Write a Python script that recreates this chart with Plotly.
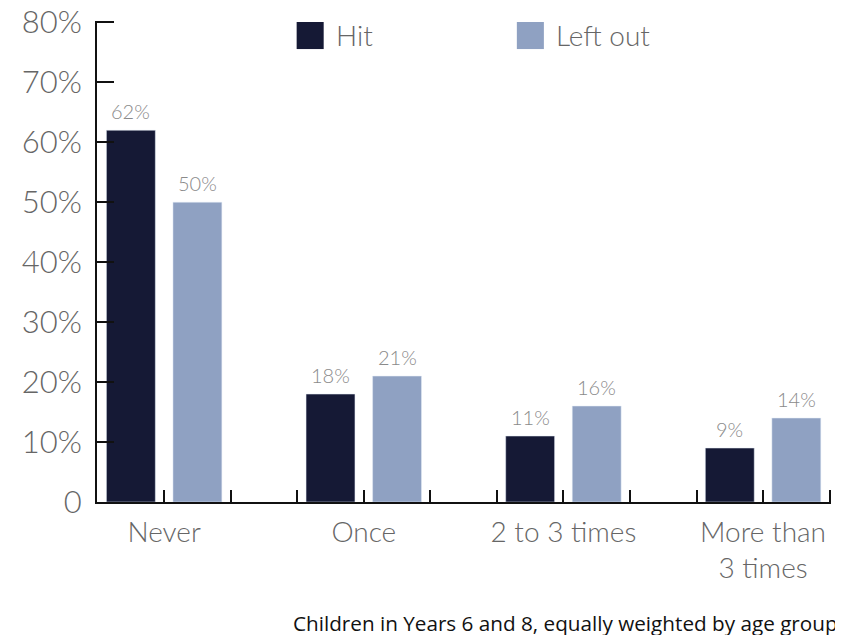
import plotly.graph_objects as go
import numpy as np

categories = ["Never", "Once", "2 to 3 times", "More than<br>3 times"]
hit = [62, 18, 11, 9]
left_out = [50, 21, 16, 14]
series_names = ["Hit", "Left out"]
y_ticks = [0, 10, 20, 30, 40, 50, 60, 70, 80]
y_tick_labels = ["0", "10%", "20%", "30%", "40%", "50%", "60%", "70%", "80%"]

c_hit = "#151935"
c_left = "#8fa1c2"
font_fam = "Lato, Roboto, sans-serif"

x = np.arange(len(categories))
bw = 0.245
fig = go.Figure()
fig.add_trace(go.Bar(x=x, y=hit, name=series_names[0], marker_color=c_hit,
                     width=bw, offset=-1/6 - bw/2, showlegend=False))
fig.add_trace(go.Bar(x=x, y=left_out, name=series_names[1], marker_color=c_left,
                     width=bw, offset=1/6 - bw/2, showlegend=False))

for xs, vals in [(x - 1/6, hit), (x + 1/6, left_out)]:
    for xi, v in zip(xs, vals):
        fig.add_annotation(x=xi, y=v, text=f"{v}%", showarrow=False, yanchor="bottom",
                           yshift=5, font=dict(size=20, color="#8a8a8a", family=font_fam, weight=300))

# x ticks every third of a category
tickvals = [k / 3 - 1 / 3 for k in range(3 * len(categories) + 2)]
ticktext = []
for tv in tickvals:
    idx = round(tv)
    if abs(tv - idx) < 1e-6 and 0 <= idx < len(categories):
        ticktext.append(categories[idx])
    else:
        ticktext.append("")

fig.update_xaxes(range=[-1/3 - 0.003, len(categories) - 2/3 + 0.007], tickmode="array",
                 tickvals=tickvals, ticktext=ticktext, ticks="inside", ticklen=12, tickwidth=2,
                 tickcolor="#111", showline=True, linecolor="#111", linewidth=2, showgrid=False,
                 zeroline=False, automargin=False, ticklabelstandoff=4, ticklabeloverflow="allow",
                 tickfont=dict(size=28, color="#666", family=font_fam, weight=300))
fig.update_yaxes(range=[0, 80.22], tickmode="array", tickvals=y_ticks, ticktext=y_tick_labels,
                 ticks="inside", ticklen=17, tickwidth=2, tickcolor="#111",
                 showline=True, linecolor="#111", linewidth=2, showgrid=False, zeroline=False,
                 automargin=False, ticklabelstandoff=7, ticklabeloverflow="allow",
                 tickfont=dict(size=31, color="#666", family=font_fam, weight=300))

# custom legend
legend_items = [(series_names[0], c_hit, 0.272), (series_names[1], c_left, 0.572)]
for name, col, px in legend_items:
    fig.add_shape(type="rect", xref="paper", yref="paper", x0=px, x1=px + 27/733,
                  y0=1 - 1/480, y1=1 - 28/480, fillcolor=col, line_width=0)
    fig.add_annotation(xref="paper", yref="paper", x=px + 37/733, y=1 - 14/480, text=name,
                       showarrow=False, xanchor="left", yanchor="middle",
                       font=dict(size=28, color="#666", family=font_fam, weight=300))

fig.add_annotation(xref="paper", yref="paper", x=1.012, y=-0.252, yanchor="middle", xanchor="right",
                   text="Children in Years 6 and 8, equally weighted by age group", showarrow=False,
                   font=dict(size=20.7, color="#111", family="Open Sans, sans-serif"))

fig.update_layout(width=835, height=627, barmode="overlay", plot_bgcolor="white",
                  paper_bgcolor="white", margin=dict(l=89, r=12, t=13, b=133))
fig.write_html("out.html")
